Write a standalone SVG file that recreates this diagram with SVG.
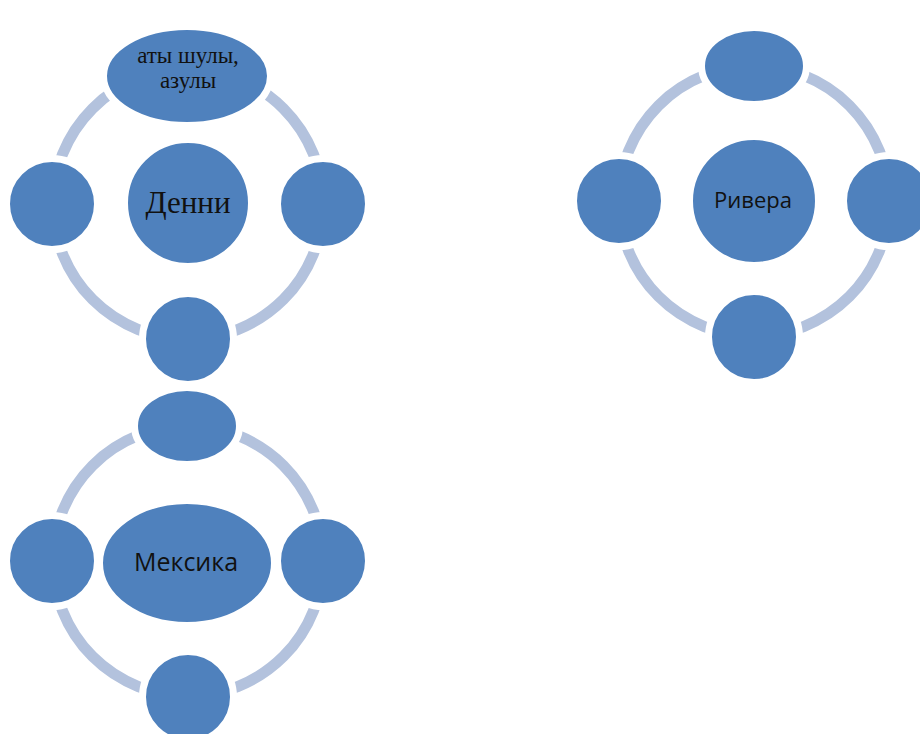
<svg xmlns="http://www.w3.org/2000/svg" width="920" height="734" viewBox="0 0 920 734">
<style>
.ring{fill:none;stroke:#b3c2dd;stroke-width:11}
.node{fill:#4f81bd;stroke:#ffffff;stroke-width:7}
.serif{font-family:"Liberation Serif","Times New Roman",serif;fill:#111;text-anchor:middle}
.sans{font-family:"Open Sans","Liberation Sans",Arial,sans-serif;fill:#111;text-anchor:middle}
</style>
<rect width="920" height="734" fill="#ffffff"/>
<g id="connectors">
<circle class="ring" cx="188" cy="204" r="135"/>
<circle class="ring" cx="754" cy="201" r="135"/>
<circle class="ring" cx="188" cy="561" r="135"/>
</g>
<g id="denni-top"><ellipse class="node" cx="187" cy="76" rx="83.5" ry="49.5"/>
<text class="serif" x="188" y="63" font-size="23">аты шулы,</text>
<text class="serif" x="188" y="88" font-size="23">азулы</text></g>
<g id="denni-left"><circle class="node" cx="52" cy="204" r="45.5"/></g>
<g id="denni-right"><circle class="node" cx="323" cy="204" r="45.5"/></g>
<g id="denni-bottom"><circle class="node" cx="188" cy="339" r="45.5"/></g>
<g id="denni"><circle class="node" cx="188" cy="203" r="63.5"/>
<text class="serif" x="188" y="213" font-size="31">Денни</text></g>

<g id="rivera-top"><ellipse class="node" cx="754" cy="66" rx="52.5" ry="38.5"/></g>
<g id="rivera-left"><circle class="node" cx="619" cy="201" r="45.5"/></g>
<g id="rivera-right"><circle class="node" cx="889" cy="201" r="45.5"/></g>
<g id="rivera-bottom"><circle class="node" cx="754" cy="337" r="45.5"/></g>
<g id="rivera"><circle class="node" cx="754" cy="201" r="64.5"/>
<text class="sans" x="753" y="208" font-size="22">Ривера</text></g>

<g id="mexica-top"><ellipse class="node" cx="187" cy="426" rx="52.5" ry="38.5"/></g>
<g id="mexica-left"><circle class="node" cx="52" cy="561" r="45.5"/></g>
<g id="mexica-right"><circle class="node" cx="323" cy="561" r="45.5"/></g>
<g id="mexica-bottom"><circle class="node" cx="188" cy="697" r="45.5"/></g>
<g id="mexica"><ellipse class="node" cx="187" cy="563" rx="87.5" ry="62.5"/>
<text class="sans" x="186" y="571" font-size="25">Мексика</text></g>
</svg>
